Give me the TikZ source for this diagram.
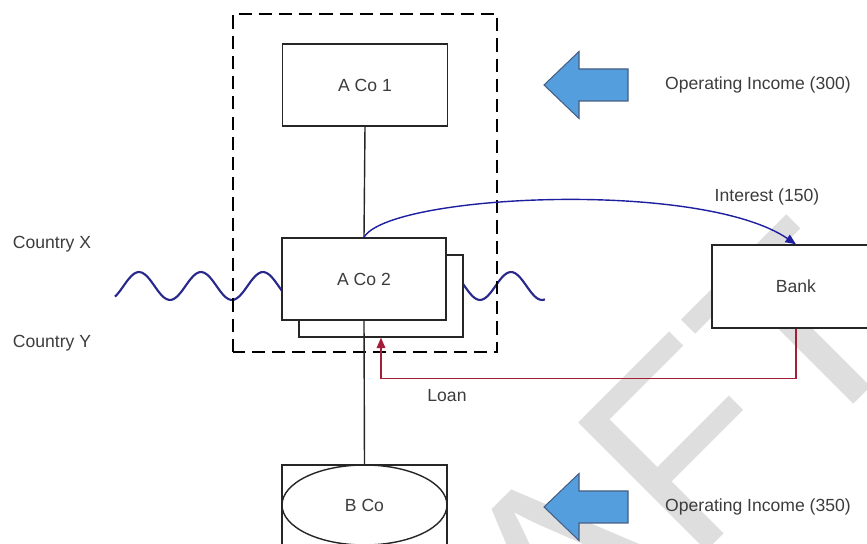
\documentclass[tikz,border=0pt]{standalone}
\usepackage{fontspec}
\setmainfont{Liberation Sans}
\usetikzlibrary{arrows.meta,shapes.geometric}

\definecolor{ondaazul}{RGB}{40,40,140}
\definecolor{interesazul}{RGB}{30,30,160}
\definecolor{prestamorojo}{RGB}{165,30,55}
\definecolor{flechaazul}{RGB}{85,158,222}
\definecolor{flechaborde}{RGB}{70,95,130}
\definecolor{textogris}{RGB}{60,60,60}
\definecolor{marcagris}{RGB}{222,222,222}

\begin{document}
\begin{tikzpicture}[
  caja/.style={draw=black!85, fill=white, line width=0.8pt, minimum width=3.3cm, minimum height=1.64cm, font=\fontsize{10}{12}\selectfont, text=textogris},
  etiq/.style={font=\fontsize{10}{12}\selectfont, text=textogris},
  enlace/.style={draw=black!85, line width=0.8pt},
  grupo/.style={draw=black, line width=1.7pt, dash pattern=on 7.5pt off 4pt},
  onda/.style={draw=ondaazul, line width=1.2pt},
  interes/.style={draw=interesazul, line width=0.8pt, -{Triangle[length=6pt,width=5pt]}},
  prestamo/.style={draw=prestamorojo, line width=0.8pt, -{Triangle[length=6pt,width=5pt]}},
  ingreso/.style={fill=flechaazul, draw=flechaborde, line width=0.6pt}
]
  \useasboundingbox (0,0) rectangle (17.34,10.88);
  \clip (0,0) rectangle (17.34,10.88);

  % marca de agua
  \node[text=marcagris, font=\fontsize{150}{150}\selectfont, rotate=45, anchor=base east, inner sep=0pt] (borrador) at (18.4,4.12) {DRAFT};

  % frontera entre paises
  \draw[onda] plot[domain=2.3:10.9, samples=160, smooth] (\x,{5.16-0.28*cos(360*(\x-2.16)/1.24)});

  % grupo A
  \node[caja] (aco1) at (7.3,9.18) {A Co 1};
  \node[caja, minimum width=3.28cm] (aco2b) at (7.62,4.96) {};
  \node[caja, minimum width=3.28cm] (aco2) at (7.28,5.30) {A Co 2};
  \draw[grupo] (4.66,3.84) rectangle (9.94,10.6);

  % B Co
  \node[caja, minimum height=1.8cm] (bcocaja) at (7.29,0.68) {};
  \node[draw=black!85, line width=0.8pt, ellipse, minimum width=3.3cm, minimum height=1.6cm, inner sep=0pt, etiq] (bco) at (7.29,0.78) {B Co};

  % banco
  \node[caja, minimum width=3.36cm, minimum height=1.66cm] (bank) at (15.92,5.15) {Bank};

  % enlaces
  \draw[enlace] (aco1.south) -- (aco2.north);
  \draw[enlace] (aco2.south) -- (bcocaja.north);

  % intereses y prestamo
  \draw[interes] (aco2.north) .. controls +(0.5,0.86) and +(-1.92,1.3) .. (bank.north);
  \draw[prestamo] (bank.south) -- ++(0,-1) -| (aco2b.south);
  \node[etiq] (loan) at (8.94,2.96) {Loan};
  \node[etiq] (interest) at (15.34,6.94) {Interest (150)};

  % paises
  \node[etiq] (paisx) at (1.04,6.0) {Country X};
  \node[etiq] (paisy) at (1.04,4.02) {Country Y};

  % ingresos operativos
  \foreach \y/\texto [count=\i] in {9.18/{Operating Income (300)}, 0.74/{Operating Income (350)}} {
    \draw[ingreso] (10.88,\y) -- ++(0.7,0.67) -- ++(0,-0.35) -- ++(0.98,0) -- ++(0,-0.64) -- ++(-0.98,0) -- ++(0,-0.35) -- cycle;
    \node[etiq] (ingreso\i) at (15.16,\y) {\texto};
  }
\end{tikzpicture}
\end{document}
